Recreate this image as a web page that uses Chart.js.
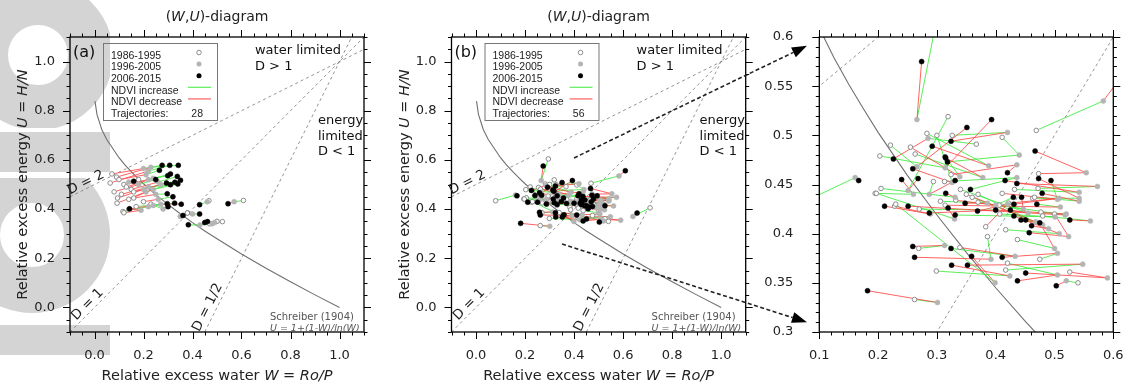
<!DOCTYPE html>
<html>
<head>
<meta charset="utf-8">
<script src="https://cdn.jsdelivr.net/npm/chart.js@4.4.1/dist/chart.umd.min.js"></script>
<style>
  body { margin: 0; background: #fff; width: 1128px; height: 390px; overflow: hidden; position: relative; }
  canvas { position: absolute; top: 0; }
  .clip { position: absolute; left: 0; width: 110px; overflow: hidden; }
  .band { position: absolute; left: 0; width: 110px; background: #d4d4d4; }
  .ring { position: absolute; border-radius: 50%; border: solid #d4d4d4; box-sizing: border-box; }
</style>
</head>
<body>
<div class="clip" style="top:0;height:128px"><div class="ring" style="left:-37px;top:-20px;width:150px;height:150px;border-width:45px"></div></div>
<div class="band" style="top:132px;height:40px"></div>
<div class="clip" style="top:178px;height:144px"><div class="ring" style="left:-46px;top:-21px;width:156px;height:156px;border-width:46px"></div></div>
<div class="band" style="top:325px;height:30px"></div>
<canvas id="panelA" width="380" height="390" style="left:0"></canvas>
<canvas id="panelB" width="380" height="390" style="left:380px"></canvas>
<canvas id="panelC" width="368" height="390" style="left:760px"></canvas>
<canvas id="overlay" width="1128" height="390" style="left:0;pointer-events:none"></canvas>
<script>
// axis ticks
const mainTicks = [0, 0.2, 0.4, 0.6, 0.8, 1.0];
const mainTickLabels = ['0.0', '0.2', '0.4', '0.6', '0.8', '1.0'];
const zoomXTicks = [0.1, 0.2, 0.3, 0.4, 0.5, 0.6];
const zoomXLabels = ['0.1', '0.2', '0.3', '0.4', '0.5', '0.6'];
const zoomYTicks = [0.3, 0.35, 0.4, 0.45, 0.5, 0.55, 0.6];
const zoomYLabels = ['0.3', '0.35', '0.4', '0.45', '0.5', '0.55', '0.6'];

// reference lines through (1,1)
const lineD2 = [[-0.1, 0.45], [1.1, 1.05]];
const lineD1 = [[-0.1, -0.1], [1.1, 1.1]];
const lineDhalf = [[0.45, -0.1], [1.05, 1.1]];

// Schreiber (1904) curve
const schreiberW = [0.002, 0.01, 0.03, 0.05, 0.1, 0.125, 0.15, 0.175, 0.2, 0.25, 0.3, 0.35, 0.4, 0.45, 0.5, 0.6, 0.7, 0.8, 0.9, 1.0];
const schreiberU = [0.839, 0.785, 0.723, 0.683, 0.609, 0.579, 0.552, 0.527, 0.503, 0.459, 0.419, 0.381, 0.345, 0.311, 0.279, 0.217, 0.159, 0.104, 0.051, 0.0];

// panel (a): 28 trajectories, 1986-1995 -> 1996-2005 -> 2006-2015
const trajA_p1 = [[0.071,0.543],[0.064,0.506],[0.09,0.53],[0.10,0.52],[0.12,0.50],[0.13,0.49],[0.15,0.48],[0.16,0.47],[0.18,0.52],[0.094,0.445],
  [0.092,0.424],[0.11,0.46],[0.14,0.44],[0.16,0.445],[0.116,0.39],[0.14,0.40],[0.17,0.41],[0.12,0.385],[0.467,0.434],[0.608,0.435],
  [0.38,0.385],[0.379,0.384],[0.522,0.349],[0.50,0.35],[0.47,0.34],[0.20,0.43],[0.08,0.47],[0.23,0.42]];
const trajA_p2 = [[0.20,0.565],[0.22,0.555],[0.23,0.57],[0.21,0.54],[0.22,0.52],[0.24,0.525],[0.26,0.51],[0.27,0.50],[0.14,0.51],[0.20,0.48],
  [0.21,0.47],[0.22,0.49],[0.24,0.48],[0.25,0.46],[0.22,0.41],[0.24,0.415],[0.27,0.42],[0.19,0.395],[0.46,0.43],[0.57,0.43],
  [0.40,0.38],[0.35,0.37],[0.49,0.345],[0.48,0.34],[0.43,0.335],[0.26,0.44],[0.18,0.50],[0.28,0.40]];
const trajA_p3 = [[0.276,0.578],[0.307,0.578],[0.342,0.578],[0.265,0.558],[0.299,0.536],[0.310,0.543],[0.338,0.533],[0.351,0.517],[0.160,0.513],[0.294,0.506],
  [0.328,0.509],[0.310,0.499],[0.340,0.502],[0.297,0.462],[0.297,0.422],[0.327,0.424],[0.354,0.420],[0.143,0.401],[0.429,0.418],[0.545,0.422],
  [0.429,0.380],[0.361,0.374],[0.450,0.345],[0.461,0.349],[0.383,0.336],[0.32,0.45],[0.25,0.52],[0.30,0.41]];
const trajA_seg1 = 'rrrrrrrrrrrrrrgrgrggrgrggrrg';
const trajA_seg2 = 'ggggggggrgggggggrrgrgrgrgggr';

// panels (b) and (c): 56 trajectories
const trajB_p1 = [[0.295,0.604],[0.469,0.505],[0.319,0.519],[0.221,0.490],[0.203,0.479],[0.326,0.500],[0.283,0.502],[0.367,0.491],[0.255,0.488],[0.263,0.481],
  [0.411,0.498],[0.080,0.434],[0.195,0.441],[0.294,0.453],[0.313,0.453],[0.473,0.461],[0.324,0.460],[0.432,0.445],[0.472,0.446],[0.463,0.436],
  [0.411,0.441],[0.205,0.446],[0.332,0.434],[0.370,0.432],[0.466,0.437],[0.306,0.433],[0.422,0.431],[0.314,0.429],[0.228,0.428],[0.197,0.441],
  [0.406,0.429],[0.270,0.425],[0.407,0.420],[0.383,0.407],[0.477,0.422],[0.340,0.445],[0.417,0.404],[0.350,0.440],[0.360,0.437],[0.370,0.440],
  [0.437,0.394],[0.500,0.420],[0.480,0.418],[0.269,0.385],[0.386,0.397],[0.339,0.386],[0.230,0.430],[0.475,0.374],[0.299,0.362],[0.417,0.363],
  [0.526,0.361],[0.420,0.370],[0.540,0.350],[0.262,0.333],[0.710,0.405],[0.300,0.500]];
const trajB_p2 = [[0.266,0.516],[0.583,0.535],[0.251,0.444],[0.266,0.468],[0.314,0.467],[0.420,0.503],[0.388,0.469],[0.285,0.497],[0.339,0.458],[0.378,0.457],
  [0.440,0.480],[0.161,0.457],[0.260,0.440],[0.287,0.440],[0.436,0.457],[0.554,0.462],[0.436,0.470],[0.542,0.442],[0.573,0.448],[0.542,0.436],
  [0.505,0.435],[0.331,0.437],[0.400,0.429],[0.447,0.425],[0.542,0.433],[0.386,0.431],[0.508,0.436],[0.510,0.427],[0.289,0.420],[0.330,0.415],
  [0.518,0.419],[0.400,0.424],[0.501,0.417],[0.420,0.430],[0.520,0.420],[0.455,0.421],[0.508,0.400],[0.468,0.412],[0.480,0.409],[0.490,0.405],
  [0.500,0.385],[0.524,0.397],[0.561,0.413],[0.313,0.388],[0.392,0.374],[0.433,0.377],[0.399,0.350],[0.505,0.380],[0.424,0.357],[0.548,0.369],
  [0.590,0.355],[0.505,0.358],[0.520,0.352],[0.301,0.330],[0.640,0.370],[0.326,0.452]];
const trajB_p3 = [[0.274,0.575],[0.609,0.556],[0.268,0.456],[0.351,0.508],[0.393,0.516],[0.324,0.494],[0.292,0.489],[0.226,0.476],[0.314,0.478],[0.315,0.477],
  [0.318,0.473],[0.167,0.454],[0.240,0.455],[0.331,0.454],[0.357,0.445],[0.467,0.484],[0.420,0.462],[0.416,0.454],[0.436,0.451],[0.473,0.456],
  [0.494,0.454],[0.315,0.441],[0.430,0.437],[0.444,0.437],[0.479,0.441],[0.348,0.431],[0.431,0.430],[0.470,0.430],[0.211,0.428],[0.319,0.426],
  [0.251,0.428],[0.287,0.421],[0.331,0.419],[0.369,0.423],[0.400,0.424],[0.425,0.424],[0.431,0.418],[0.443,0.414],[0.451,0.414],[0.461,0.408],
  [0.475,0.411],[0.457,0.401],[0.526,0.414],[0.259,0.387],[0.262,0.376],[0.324,0.385],[0.359,0.377],[0.411,0.376],[0.325,0.368],[0.352,0.368],
  [0.451,0.360],[0.437,0.352],[0.503,0.347],[0.182,0.342],[0.657,0.384],[0.259,0.466]];
const trajB_seg1 = 'ggggggggrggggggrrgggrgrgggrrrggggrgggrgggrgggrggggrggggg';
const trajB_seg2 = 'rrrrrrrrgrgrrrgrrrrrgrgrrrrgrrrrgrrrrgrrrrrrrgrrrrrrrrgr';

const colIncrease = 'rgba(60,235,60,0.85)';
const colDecrease = 'rgba(255,70,70,0.85)';
const FONT = '"DejaVu Sans", Verdana, sans-serif';

function pts(list) { return list.map(p => ({ x: p[0], y: p[1] })); }

function segments(p1, p2, p3, s1, s2, code) {
  const out = [];
  for (let i = 0; i < p1.length; i++) {
    if (s1[i] === code) out.push({ x: p1[i][0], y: p1[i][1] }, { x: p2[i][0], y: p2[i][1] }, { x: null, y: null });
    if (s2[i] === code) out.push({ x: p2[i][0], y: p2[i][1] }, { x: p3[i][0], y: p3[i][1] }, { x: null, y: null });
  }
  return out;
}

function refLine(l) { return l.map(p => ({ x: p[0], y: p[1] })); }

function buildDatasets(p1, p2, p3, s1, s2) {
  const dash = { showLine: true, pointRadius: 0, borderColor: '#7a7a7a', borderWidth: 0.8, borderDash: [3, 3], order: 10 };
  return [
    Object.assign({ data: refLine(lineD2) }, dash),
    Object.assign({ data: refLine(lineD1) }, dash),
    Object.assign({ data: refLine(lineDhalf) }, dash),
    { data: schreiberW.map((w, i) => ({ x: w, y: schreiberU[i] })), showLine: true, pointRadius: 0,
      borderColor: '#707070', borderWidth: 1.1, order: 9 },
    { data: segments(p1, p2, p3, s1, s2, 'g'), showLine: true, pointRadius: 0, spanGaps: false,
      borderColor: colIncrease, borderWidth: 1, order: 8 },
    { data: segments(p1, p2, p3, s1, s2, 'r'), showLine: true, pointRadius: 0, spanGaps: false,
      borderColor: colDecrease, borderWidth: 1, order: 7 },
    { data: pts(p1), pointRadius: 2.3, backgroundColor: '#fff', borderColor: '#8c8c8c', borderWidth: 1, order: 3 },
    { data: pts(p2), pointRadius: 2.5, backgroundColor: '#b4b4b4', borderColor: '#b4b4b4', borderWidth: 0.5, order: 2 },
    { data: pts(p3), pointRadius: 2.5, backgroundColor: '#000', borderColor: '#000', borderWidth: 0.5, order: 1 }
  ];
}

function richText(ctx, parts, x, y, align, size) {
  const fonts = parts.map(p => (p[1] ? 'italic ' : '') + size + 'px ' + FONT);
  const widths = parts.map((p, i) => { ctx.font = fonts[i]; return ctx.measureText(p[0]).width; });
  const total = widths.reduce((a, b) => a + b, 0);
  let cx = align === 'center' ? x - total / 2 : x;
  ctx.textAlign = 'left';
  parts.forEach((p, i) => { ctx.font = fonts[i]; ctx.fillText(p[0], cx, y); cx += widths[i]; });
}

// draws the frame, outward ticks, tick labels, titles and annotations
function framePlugin(cfg) {
  return {
    id: 'frame',
    afterDraw(chart) {
      const { ctx, chartArea: a, scales: { x, y } } = chart;
      ctx.save();
      ctx.strokeStyle = '#000';
      ctx.lineWidth = 1.3;
      ctx.strokeRect(a.left, a.top, a.right - a.left, a.bottom - a.top);
      ctx.lineWidth = 1;
      const eps = 1e-9;
      const isMajor = (v, list) => list.some(t => Math.abs(t - v) < 1e-6);
      ctx.beginPath();
      for (let k = 0; ; k++) {
        const v = x.min + k * cfg.xMinor;
        if (v > x.max + eps) break;
        const px = Math.round(x.getPixelForValue(v)) + 0.5;
        const len = isMajor(v, cfg.xTicks) ? 7 : 3.5;
        ctx.moveTo(px, a.bottom); ctx.lineTo(px, a.bottom + len);
        ctx.moveTo(px, a.top); ctx.lineTo(px, a.top - len);
      }
      for (let k = 0; ; k++) {
        const v = y.min + k * cfg.yMinor;
        if (v > y.max + eps) break;
        const py = Math.round(y.getPixelForValue(v)) + 0.5;
        const len = isMajor(v, cfg.yTicks) ? 7 : 3.5;
        ctx.moveTo(a.left, py); ctx.lineTo(a.left - len, py);
        ctx.moveTo(a.right, py); ctx.lineTo(a.right + len, py);
      }
      ctx.stroke();

      ctx.fillStyle = '#222';
      ctx.font = '13px ' + FONT;
      ctx.textAlign = 'center';
      ctx.textBaseline = 'top';
      cfg.xTicks.forEach((v, i) => ctx.fillText(cfg.xLabels[i], x.getPixelForValue(v), a.bottom + 17));
      ctx.textAlign = 'right';
      ctx.textBaseline = 'middle';
      cfg.yTicks.forEach((v, i) => ctx.fillText(cfg.yLabels[i], a.left - cfg.yLabelGap, y.getPixelForValue(v)));

      ctx.textBaseline = 'alphabetic';
      if (cfg.main) {
        const cx = (a.left + a.right) / 2;
        richText(ctx, [['(', 0], ['W', 1], [',', 0], ['U', 1], [')-diagram', 0]], cx, 21, 'center', 14);
        richText(ctx, [['Relative excess water ', 0], ['W', 1], [' = ', 0], ['Ro/P', 1]], cx, 380, 'center', 14.5);
        ctx.save();
        ctx.translate(a.left - 43, (a.top + a.bottom) / 2);
        ctx.rotate(-Math.PI / 2);
        richText(ctx, [['Relative excess energy ', 0], ['U', 1], [' = ', 0], ['H/N', 1]], 0, 0, 'center', 14.5);
        ctx.restore();

        ctx.fillStyle = '#111';
        ctx.font = '16px ' + FONT;
        ctx.textAlign = 'left';
        ctx.fillText(cfg.tag, x.getPixelForValue(-0.088), y.getPixelForValue(1.018));
        ctx.font = '13px ' + FONT;
        ctx.fillText('water limited', x.getPixelForValue(0.655), y.getPixelForValue(1.03));
        ctx.fillText('D > 1', x.getPixelForValue(0.655), y.getPixelForValue(0.965));
        ctx.fillText('energy', x.getPixelForValue(0.912), y.getPixelForValue(0.748));
        ctx.fillText('limited', x.getPixelForValue(0.912), y.getPixelForValue(0.683));
        ctx.fillText('D < 1', x.getPixelForValue(0.912), y.getPixelForValue(0.618));

        ctx.fillStyle = '#555';
        ctx.font = '10px ' + FONT;
        ctx.fillText('Schreiber (1904)', x.getPixelForValue(0.716), y.getPixelForValue(-0.05));
        ctx.font = 'italic 9.5px ' + FONT;
        ctx.fillText('U = 1+(1-W)/ln(W)', x.getPixelForValue(0.716), y.getPixelForValue(-0.097));

        // rotated D labels
        ctx.fillStyle = '#222';
        ctx.font = '13.5px ' + FONT;
        ctx.textAlign = 'center';
        ctx.textBaseline = 'middle';
        [['D = 2', -0.035, 0.507, -26.6], ['D = 1', -0.028, 0.012, -45], ['D = 1/2', 0.462, 0.0, -63.4]].forEach(d => {
          ctx.save();
          ctx.translate(x.getPixelForValue(d[1]), y.getPixelForValue(d[2]));
          ctx.rotate(d[3] * Math.PI / 180);
          ctx.fillText(d[0], 0, 0);
          ctx.restore();
        });

        // legend
        const lx = a.left + 33, ly = a.top + 6;
        ctx.strokeStyle = '#777';
        ctx.lineWidth = 1;
        ctx.strokeRect(lx + 0.5, ly + 0.5, 114, 77);
        ctx.font = '10.5px "Liberation Sans", Arial, sans-serif';
        ctx.textAlign = 'left';
        ctx.fillStyle = '#222';
        const rows = ['1986-1995', '1996-2005', '2006-2015', 'NDVI increase', 'NDVI decrease', 'Trajectories:'];
        rows.forEach((t, i) => ctx.fillText(t, lx + 8, ly + 13 + i * 11.6));
        const mx = lx + 96;
        ctx.beginPath(); ctx.arc(mx, ly + 9.5, 2.3, 0, 2 * Math.PI);
        ctx.fillStyle = '#fff'; ctx.fill(); ctx.strokeStyle = '#8c8c8c'; ctx.stroke();
        ctx.beginPath(); ctx.arc(mx, ly + 21.1, 2.5, 0, 2 * Math.PI);
        ctx.fillStyle = '#b4b4b4'; ctx.fill();
        ctx.beginPath(); ctx.arc(mx, ly + 32.7, 2.5, 0, 2 * Math.PI);
        ctx.fillStyle = '#000'; ctx.fill();
        ctx.lineWidth = 1.2;
        ctx.strokeStyle = colIncrease;
        ctx.beginPath(); ctx.moveTo(lx + 85, ly + 44.3); ctx.lineTo(lx + 108, ly + 44.3); ctx.stroke();
        ctx.strokeStyle = colDecrease;
        ctx.beginPath(); ctx.moveTo(lx + 85, ly + 55.9); ctx.lineTo(lx + 108, ly + 55.9); ctx.stroke();
        ctx.fillStyle = '#222';
        ctx.textAlign = 'right';
        ctx.fillText(String(cfg.count), lx + 100, ly + 71);
      }
      ctx.restore();
    }
  };
}

function makePanel(id, pad, range, datasets, cfg) {
  return new Chart(document.getElementById(id), {
    type: 'scatter',
    data: { datasets },
    options: {
      responsive: false,
      animation: false,
      layout: { padding: pad },
      scales: {
        x: { type: 'linear', min: range[0], max: range[1], display: false },
        y: { type: 'linear', min: range[2], max: range[3], display: false }
      },
      plugins: { legend: { display: false }, tooltip: { enabled: false } },
      elements: { line: { tension: 0 } }
    },
    plugins: [framePlugin(cfg)]
  });
}

const mainCfg = { main: true, xTicks: mainTicks, xLabels: mainTickLabels, yTicks: mainTicks, yLabels: mainTickLabels,
  xMinor: 0.05, yMinor: 0.05, yLabelGap: 15 };

const chartA = makePanel('panelA', { left: 70, right: 16, top: 37, bottom: 58 }, [-0.1, 1.1, -0.1, 1.1],
  buildDatasets(trajA_p1, trajA_p2, trajA_p3, trajA_seg1, trajA_seg2),
  Object.assign({ tag: '(a)', count: trajA_p1.length }, mainCfg));

const chartB = makePanel('panelB', { left: 71.5, right: 14.3, top: 37, bottom: 58 }, [-0.1, 1.1, -0.1, 1.1],
  buildDatasets(trajB_p1, trajB_p2, trajB_p3, trajB_seg1, trajB_seg2),
  Object.assign({ tag: '(b)', count: trajB_p1.length }, mainCfg));

const chartC = makePanel('panelC', { left: 59.3, right: 14.7, top: 37, bottom: 58 }, [0.1, 0.6, 0.3, 0.6],
  buildDatasets(trajB_p1, trajB_p2, trajB_p3, trajB_seg1, trajB_seg2),
  { main: false, xTicks: zoomXTicks, xLabels: zoomXLabels, yTicks: zoomYTicks, yLabels: zoomYLabels,
    xMinor: 0.02, yMinor: 0.01, yLabelGap: 26 });

// zoom arrows from panel (b) to panel (c)
(function drawArrows() {
  const ctx = document.getElementById('overlay').getContext('2d');
  const bx = v => 380 + chartB.scales.x.getPixelForValue(v);
  const by = v => chartB.scales.y.getPixelForValue(v);
  const cx = v => 760 + chartC.scales.x.getPixelForValue(v);
  const cy = v => chartC.scales.y.getPixelForValue(v);
  const arrows = [[bx(0.40), by(0.608), cx(0.079), cy(0.591)], [bx(0.351), by(0.258), cx(0.079), cy(0.310)]];
  arrows.forEach(([x0, y0, x1, y1]) => {
    const ang = Math.atan2(y1 - y0, x1 - x0);
    const hl = 15, hw = 5.5;
    const ex = x1 - hl * Math.cos(ang), ey = y1 - hl * Math.sin(ang);
    ctx.strokeStyle = '#222';
    ctx.lineWidth = 1.6;
    ctx.setLineDash([4, 2.5]);
    ctx.beginPath(); ctx.moveTo(x0, y0); ctx.lineTo(ex, ey); ctx.stroke();
    ctx.setLineDash([]);
    ctx.fillStyle = '#000';
    ctx.beginPath();
    ctx.moveTo(x1, y1);
    ctx.lineTo(ex - hw * Math.sin(ang), ey + hw * Math.cos(ang));
    ctx.lineTo(ex + hw * Math.sin(ang), ey - hw * Math.cos(ang));
    ctx.closePath();
    ctx.fill();
  });
})();
</script>
</body>
</html>
